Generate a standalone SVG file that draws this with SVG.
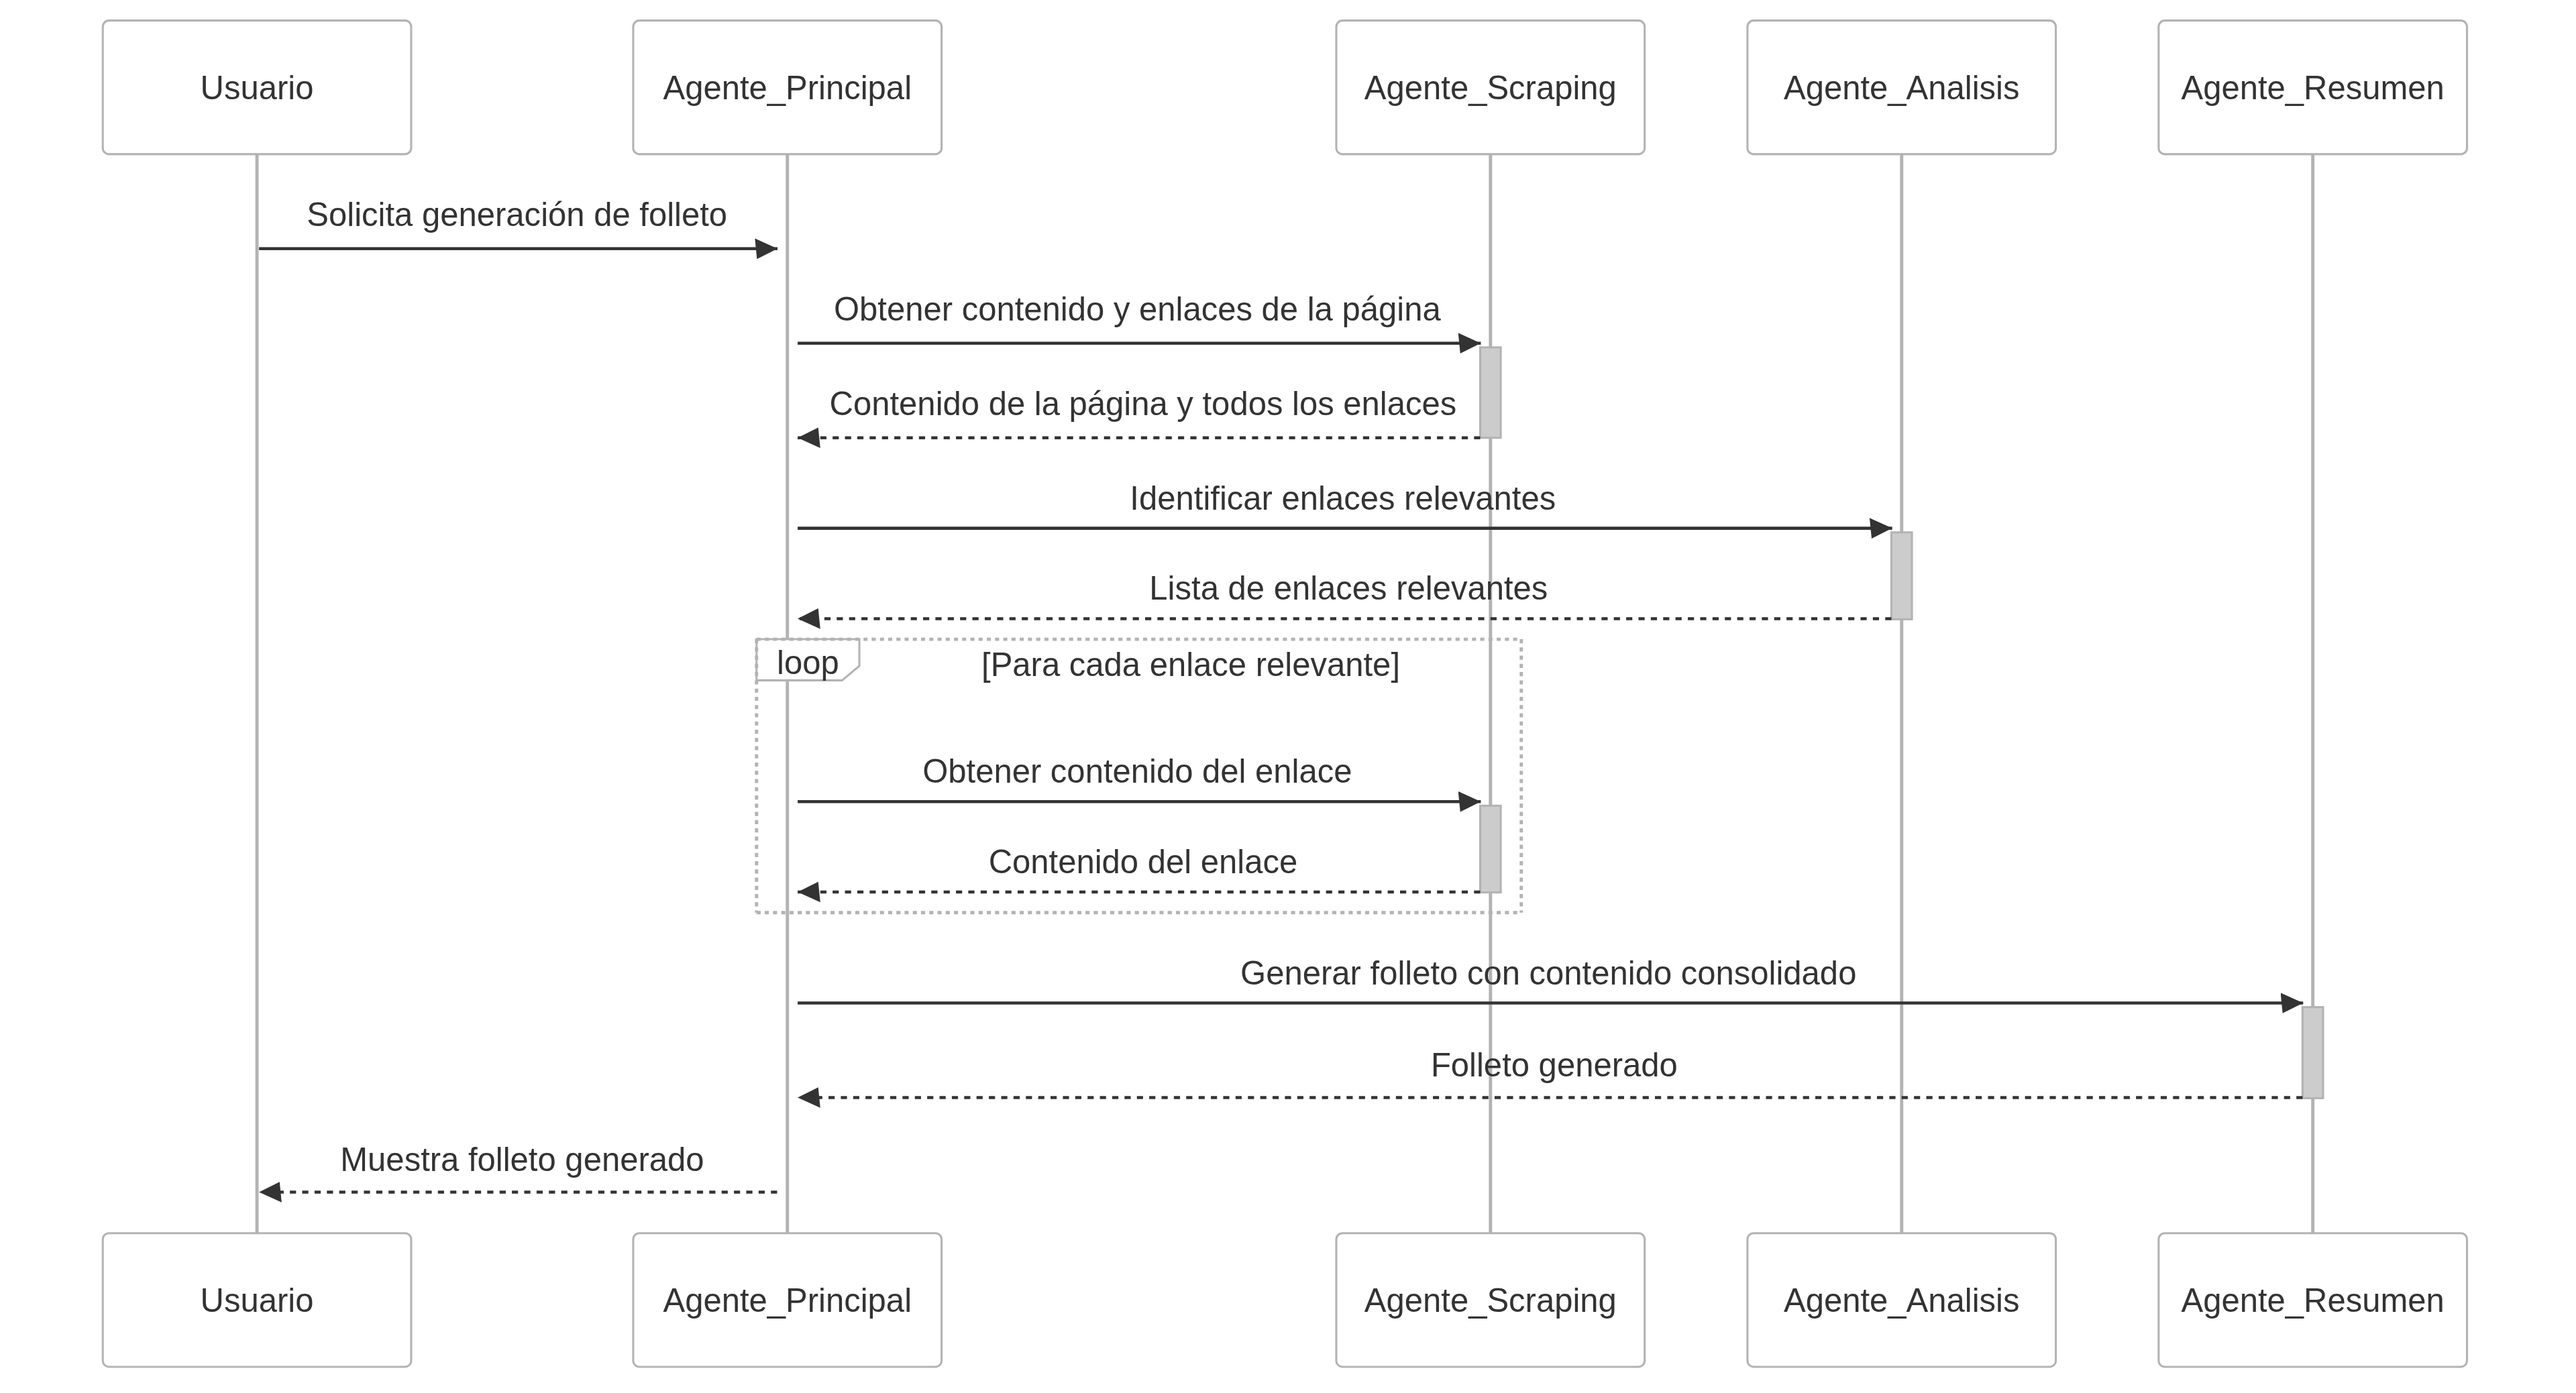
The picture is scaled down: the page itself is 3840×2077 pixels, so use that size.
<svg xmlns="http://www.w3.org/2000/svg" width="3840" height="2077" viewBox="0 0 3840 2077">
<style>
.bg{fill:#ffffff}
.actor{fill:#ffffff;stroke:#b3b3b3;stroke-width:1}
.alabel{font-family:"Liberation Sans",Arial,Helvetica,sans-serif;font-size:16px;fill:#333333;text-anchor:middle}
.life{stroke:#b3b3b3;stroke-width:1.6;fill:none}
.act{fill:#cccccc;stroke:#b3b3b3;stroke-width:1}
.msg{stroke:#333333;stroke-width:1.5;fill:none}
.dash{stroke-dasharray:3,3}
.mtext{font-family:"Liberation Sans",Arial,Helvetica,sans-serif;font-size:16px;fill:#333333;text-anchor:middle}
.loopline{stroke:#b3b3b3;stroke-width:1.6;stroke-dasharray:2,2;fill:none}
.loopbox{fill:#ffffff;stroke:#b3b3b3;stroke-width:1}
</style>
<defs>
<marker id="arrow" viewBox="-1 0 12 10" refX="10" refY="5" markerWidth="12" markerHeight="12" markerUnits="userSpaceOnUse" orient="auto">
<path d="M -1 0 L 10 5 L 0 10 z" fill="#333333"/>
</marker>
</defs>
<rect class="bg" x="0" y="0" width="3840" height="2077"/>
<g transform="matrix(3.0646,0,0,3.0646,153.23,30.646)">
<g id="lifelines">
<line class="life" x1="75" y1="65" x2="75" y2="590"/>
<line class="life" x1="333" y1="65" x2="333" y2="590"/>
<line class="life" x1="675" y1="65" x2="675" y2="590"/>
<line class="life" x1="875" y1="65" x2="875" y2="590"/>
<line class="life" x1="1075" y1="65" x2="1075" y2="590"/>
</g>
<g id="node-Usuario">
<rect class="actor" x="0" y="0" width="150" height="65" rx="3" ry="3"/>
<text class="alabel" x="75" y="38.3">Usuario</text>
<rect class="actor" x="0" y="590" width="150" height="65" rx="3" ry="3"/>
<text class="alabel" x="75" y="628.4">Usuario</text>
</g>
<g id="node-Agente_Principal">
<rect class="actor" x="258" y="0" width="150" height="65" rx="3" ry="3"/>
<text class="alabel" x="333" y="38.3">Agente_Principal</text>
<rect class="actor" x="258" y="590" width="150" height="65" rx="3" ry="3"/>
<text class="alabel" x="333" y="628.4">Agente_Principal</text>
</g>
<g id="node-Agente_Scraping">
<rect class="actor" x="600" y="0" width="150" height="65" rx="3" ry="3"/>
<text class="alabel" x="675" y="38.3">Agente_Scraping</text>
<rect class="actor" x="600" y="590" width="150" height="65" rx="3" ry="3"/>
<text class="alabel" x="675" y="628.4">Agente_Scraping</text>
<rect class="act" x="670" y="159" width="10" height="44"/>
<rect class="act" x="670" y="382" width="10" height="42.2"/>
</g>
<g id="node-Agente_Analisis">
<rect class="actor" x="800" y="0" width="150" height="65" rx="3" ry="3"/>
<text class="alabel" x="875" y="38.3">Agente_Analisis</text>
<rect class="actor" x="800" y="590" width="150" height="65" rx="3" ry="3"/>
<text class="alabel" x="875" y="628.4">Agente_Analisis</text>
<rect class="act" x="870" y="249" width="10" height="42.3"/>
</g>
<g id="node-Agente_Resumen">
<rect class="actor" x="1000" y="0" width="150" height="65" rx="3" ry="3"/>
<text class="alabel" x="1075" y="38.3">Agente_Resumen</text>
<rect class="actor" x="1000" y="590" width="150" height="65" rx="3" ry="3"/>
<text class="alabel" x="1075" y="628.4">Agente_Resumen</text>
<rect class="act" x="1070" y="480" width="10" height="44.3"/>
</g>
<g id="loop">
<polygon class="loopbox" points="318,301 368,301 368,314 359.6,321 318,321"/>
<line class="loopline" x1="318" y1="301" x2="690" y2="301"/>
<line class="loopline" x1="690" y1="301" x2="690" y2="434"/>
<line class="loopline" x1="318" y1="434" x2="690" y2="434"/>
<line class="loopline" x1="318" y1="301" x2="318" y2="434"/>
<text class="mtext" x="343" y="318">loop</text>
<text class="mtext" x="529.2" y="319">[Para cada enlace relevante]</text>
</g>
<g id="connectors">
<line class="msg" x1="76" y1="111" x2="328.2" y2="111" marker-end="url(#arrow)"/>
<text class="mtext" x="201.5" y="100.1">Solicita generación de folleto</text>
<line class="msg" x1="338" y1="157" x2="670.3" y2="157" marker-end="url(#arrow)"/>
<text class="mtext" x="503.2" y="146.1">Obtener contenido y enlaces de la página</text>
<line class="msg dash" x1="670" y1="203" x2="338" y2="203" marker-end="url(#arrow)"/>
<text class="mtext" x="506" y="192.1">Contenido de la página y todos los enlaces</text>
<line class="msg" x1="338" y1="247" x2="870.4" y2="247" marker-end="url(#arrow)"/>
<text class="mtext" x="603.2" y="237.9">Identificar enlaces relevantes</text>
<line class="msg dash" x1="870" y1="291" x2="338" y2="291" marker-end="url(#arrow)"/>
<text class="mtext" x="606" y="281.8">Lista de enlaces relevantes</text>
<line class="msg" x1="338" y1="380" x2="670.3" y2="380" marker-end="url(#arrow)"/>
<text class="mtext" x="503.2" y="370.7">Obtener contenido del enlace</text>
<line class="msg dash" x1="670" y1="424" x2="338" y2="424" marker-end="url(#arrow)"/>
<text class="mtext" x="506" y="414.8">Contenido del enlace</text>
<line class="msg" x1="338" y1="478" x2="1070.3" y2="478" marker-end="url(#arrow)"/>
<text class="mtext" x="703.2" y="468.9">Generar folleto con contenido consolidado</text>
<line class="msg dash" x1="1070" y1="524" x2="338" y2="524" marker-end="url(#arrow)"/>
<text class="mtext" x="706" y="513.8">Folleto generado</text>
<line class="msg dash" x1="328" y1="570" x2="76" y2="570" marker-end="url(#arrow)"/>
<text class="mtext" x="204" y="559.6">Muestra folleto generado</text>
</g>
</g>
</svg>
